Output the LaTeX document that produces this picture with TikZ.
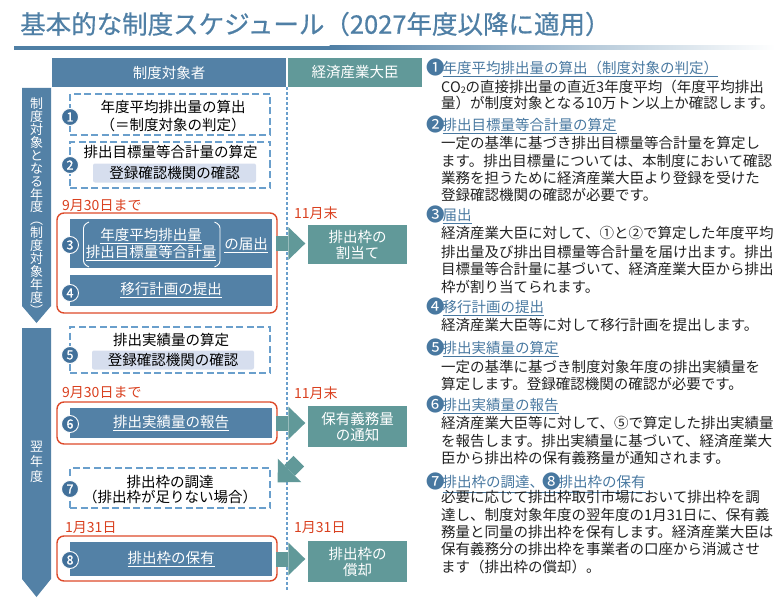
\documentclass[tikz,border=0pt]{standalone}
\usepackage{fontspec}
\setmainfont{Noto Sans CJK JP}
\newfontfamily\titlefont[FakeBold=0.6]{Noto Sans CJK JP}
\newfontfamily\numfont[FakeBold=1.2]{Noto Sans CJK JP}
\usetikzlibrary{arrows.meta,calc}
\definecolor{hdrblue}{HTML}{5381A6}
\definecolor{boxblue}{HTML}{5381A6}
\definecolor{tealc}{HTML}{619999}
\definecolor{circc}{HTML}{41709A}
\definecolor{dashblue}{HTML}{6A9FCC}
\definecolor{lavc}{HTML}{D6DEEE}
\definecolor{redc}{HTML}{DD4A2A}
\definecolor{redtc}{HTML}{D9401F}
\definecolor{headc}{HTML}{4878A0}
\definecolor{titlec}{HTML}{4F7FA5}
\definecolor{bodyc}{HTML}{222222}
\newcommand\fs[2]{\fontsize{#1}{#2}\selectfont}
\newcommand\tightls{\lineskiplimit-20pt\relax}
\newcommand\hn[1]{\makebox[14.5pt][c]{\raisebox{-1.3pt}{\fs{18.5}{17}#1}}}
\begin{document}
\begin{tikzpicture}[x=1pt,y=-1pt,
  hdr/.style={text=white, font=\fs{14.5}{17}, inner sep=0pt, minimum height=29pt},
  dbox/.style={draw=dashblue, line width=1.2pt, dash pattern=on 7pt off 3.5pt, minimum width=200pt, inner sep=0pt},
  bbox/.style={fill=boxblue, minimum width=202pt, inner sep=0pt, text=white, font=\fs{14.5}{17}},
  rbox/.style={draw=redc, line width=1.4pt, rounded corners=7pt, minimum width=220pt, inner sep=0pt},
  lav/.style={fill=lavc, rounded corners=2pt, minimum width=163pt, minimum height=19pt, inner sep=0pt, font=\fs{14.5}{17}},
  tbox/.style={fill=tealc, text=white, minimum width=99pt, inner sep=0pt, align=center, font=\fs{14.5}{16}},
  numc/.style={circle, fill=circc, draw=white, line width=0.9pt, minimum size=17pt, inner sep=0pt, text=white, font=\numfont\fs{12.5}{12}},
  btxt/.style={font=\fs{14.5}{18}, align=center, inner sep=0pt},
  redt/.style={text=redtc, font=\fs{14}{16}, anchor=west, inner sep=0pt},
  rline/.style={anchor=base west, inner sep=0pt, font=\fs{14.5}{17}, text=bodyc},
  rhead/.style={anchor=base west, inner sep=0pt, font=\fs{14.5}{17}, text=headc},
  vtext/.style={text=white, align=center, inner sep=0pt},
  blockarr/.style={draw=tealc, line width=15pt, -{Triangle[length=17pt,width=33pt,line width=0pt]}},
  vdash/.style={draw=dashblue, line width=1.2pt, dash pattern=on 3pt off 2pt},
]
\useasboundingbox (0,0) rectangle (779,607);
% title
\node[anchor=west, inner sep=0pt, text=titlec, font=\titlefont\fs{25.5}{28}] (title) at (20,24) {基本的な制度スケジュール（2027年度以降に適用）};
\fill[titlec] (14,45.7) rectangle (330,50);
\shade[left color=titlec, right color=white] (329.5,45.7) rectangle (775,50);
% headers
\node[hdr, fill=hdrblue, minimum width=234pt] (h1) at (169,72.5) {制度対象者};
\node[hdr, fill=tealc, minimum width=134pt] (h2) at (355,72.5) {経済産業大臣};
% divider
\draw[vdash] ($(h1.south east)!0.5!(h2.south west)$) -- ++(0,504);
% left period arrows
\fill[hdrblue] (22,88) -- (51,88) -- (51,306) -- (36.5,323) -- (22,306) -- cycle;
\fill[hdrblue] (22,328) -- (51,328) -- (51,579) -- (36.5,597) -- (22,579) -- cycle;
\node[vtext, font=\fs{13}{12.9}\tightls] (v1) at (36.5,206.5) {制\\度\\対\\象\\と\\な\\る\\年\\度\\︵\\制\\度\\対\\象\\年\\度\\︶};
\node[vtext, font=\fs{13}{15}\tightls] (v2) at (36.5,462) {翌\\年\\度};
% red frames
\node[rbox, minimum height=100pt] (r1) at (167,263) {};
\node[rbox, minimum height=42pt] (r2) at (167,423) {};
\node[rbox, minimum height=45pt] (r3) at (167,558.5) {};
% step boxes
\node[dbox, minimum height=41pt] (s1) at (170,114.5) {};
\node[btxt] (s1t) at (173,116) {年度平均排出量の算出\\（＝制度対象の判定）};
\node[dbox, minimum height=46pt] (s2) at (170,165) {};
\node[btxt] (s2t) at (170.5,152) {排出目標量等合計量の算定};
\node[lav] (s2c) at (174.5,173) {登録確認機関の確認};
\node[bbox, minimum height=49pt] (s3) at (171,243.5) {};
\node[btxt, text=white, font=\fs{14.5}{17}] (s3t) at (151,244.5) {\underline{年度平均排出量}\\\underline{排出目標量等合計量}};
\node[btxt, text=white] (s3e) at (246,245) {\underline{の届出}};
\draw[white, line width=0.9pt, rounded corners=3pt] (89,222) -- (83.5,225) -- (83.5,264) -- (89,267);
\draw[white, line width=0.9pt, rounded corners=3pt] (214.5,222) -- (220,225) -- (220,264) -- (214.5,267);
\node[bbox, minimum height=31pt] (s4) at (171,290.5) {\underline{移行計画の提出}};
\node[dbox, minimum height=46pt] (s5) at (170,350) {};
\node[btxt] (s5t) at (171,340) {排出実績量の算定};
\node[lav, minimum width=162pt] (s5c) at (173,360) {登録確認機関の確認};
\node[bbox, minimum height=30pt] (s6) at (171,423) {\underline{排出実績量の報告}};
\node[dbox, minimum height=40pt] (s7) at (170,488) {};
\node[btxt, font=\fs{14.5}{15}] (s7t) at (170,489.5) {排出枠の調達\\（排出枠が足りない場合）};
\node[bbox, minimum height=34pt] (s8) at (171,559) {\underline{排出枠の保有}};
% number circles
\node[numc] (c1) at (70,117) {1};
\node[numc] (c2) at (70,165) {2};
\node[numc] (c3) at (70,245) {3};
\node[numc] (c4) at (70,293) {4};
\node[numc] (c5) at (70,355) {5};
\node[numc] (c6) at (70,424) {6};
\node[numc] (c7) at (70,489) {7};
\node[numc] (c8) at (70,560) {8};
% deadlines
\node[redt] (d1) at (62,206) {9月30日まで};
\node[redt] (d2) at (294,213) {11月末};
\node[redt] (d3) at (62,393) {9月30日まで};
\node[redt] (d4) at (294,393) {11月末};
\node[redt] (d5) at (65,528) {1月31日};
\node[redt] (d6) at (294,528) {1月31日};
% minister boxes
\node[tbox, minimum height=39pt] (a3) at (357.5,244.5) {排出枠の\\割当て};
\node[tbox, minimum height=41pt] (a6) at (357.5,426.5) {保有義務量\\の通知};
\node[tbox, minimum height=41pt] (a8) at (357.5,561.5) {排出枠の\\償却};
% block arrows
\draw[blockarr] ([xshift=4pt]s3.east) -- ([xshift=-2.5pt]s3.east -| a3.west);
\draw[blockarr] ([xshift=4pt]s6.east) -- ([xshift=-2.5pt]s6.east -| a6.west);
\draw[blockarr] ([xshift=4pt]s8.east) -- ([xshift=-2.5pt]s8.east -| a8.west);
\coordinate (q1) at ($(a6.south west)+(-9,14)$);
\coordinate (q2) at ($(s7.north east)+(7,15)$);
\draw[blockarr] (q1) -- (q2);
% right column
\node[rhead] (e1) at (428,73.5) {\hn{❶}\underline{年度平均排出量の算出（制度対象の判定）}};
\node[rline] (e1a) at (441,92.5) {CO\raisebox{-1.5pt}{\fs{9}{9}2}の直接排出量の直近3年度平均（年度平均排出};
\node[rline] (e1b) at (441,108.5) {量）が制度対象となる10万トン以上か確認します。};
\node[rhead] (e2) at (428,130.5) {\hn{❷}\underline{排出目標量等合計量の算定}};
\node[rline] (e2a) at (441,148.5) {一定の基準に基づき排出目標量等合計量を算定し};
\node[rline] (e2b) at (441,166.5) {ます。排出目標量については、本制度において確認};
\node[rline] (e2c) at (441,183.5) {業務を担うために経済産業大臣より登録を受けた};
\node[rline] (e2d) at (441,200.5) {登録確認機関の確認が必要です。};
\node[rhead] (e3) at (428,220.5) {\hn{❸}\underline{届出}};
\node[rline] (e3a) at (441,238.5) {経済産業大臣に対して、①と②で算定した年度平均};
\node[rline] (e3b) at (441,257) {排出量及び排出目標量等合計量を届け出ます。排出};
\node[rline] (e3c) at (441,274.5) {目標量等合計量に基づいて、経済産業大臣から排出};
\node[rline] (e3d) at (441,292.5) {枠が割り当てられます。};
\node[rhead] (e4) at (428,312.5) {\hn{❹}\underline{移行計画の提出}};
\node[rline] (e4a) at (441,330.5) {経済産業大臣等に対して移行計画を提出します。};
\node[rhead] (e5) at (428,353.5) {\hn{❺}\underline{排出実績量の算定}};
\node[rline] (e5a) at (441,372.5) {一定の基準に基づき制度対象年度の排出実績量を};
\node[rline] (e5b) at (441,389.5) {算定します。登録確認機関の確認が必要です。};
\node[rhead] (e6) at (428,410.5) {\hn{❻}\underline{排出実績量の報告}};
\node[rline] (e6a) at (441,428.5) {経済産業大臣等に対して、⑤で算定した排出実績量};
\node[rline] (e6b) at (441,446.5) {を報告します。排出実績量に基づいて、経済産業大};
\node[rline] (e6c) at (441,463.5) {臣から排出枠の保有義務量が通知されます。};
\node[rhead] (e7) at (428,487.5) {\hn{❼}\underline{排出枠の調達、\hn{❽}排出枠の保有}};
\node[rline] (e7a) at (441,502.5) {必要に応じて排出枠取引市場において排出枠を調};
\node[rline] (e7b) at (441,520.5) {達し、制度対象年度の翌年度の1月31日に、保有義};
\node[rline] (e7c) at (441,537.5) {務量と同量の排出枠を保有します。経済産業大臣は};
\node[rline] (e7d) at (441,554.5) {保有義務分の排出枠を事業者の口座から消滅させ};
\node[rline] (e7e) at (441,572.5) {ます（排出枠の償却）。};
\end{tikzpicture}
\end{document}
